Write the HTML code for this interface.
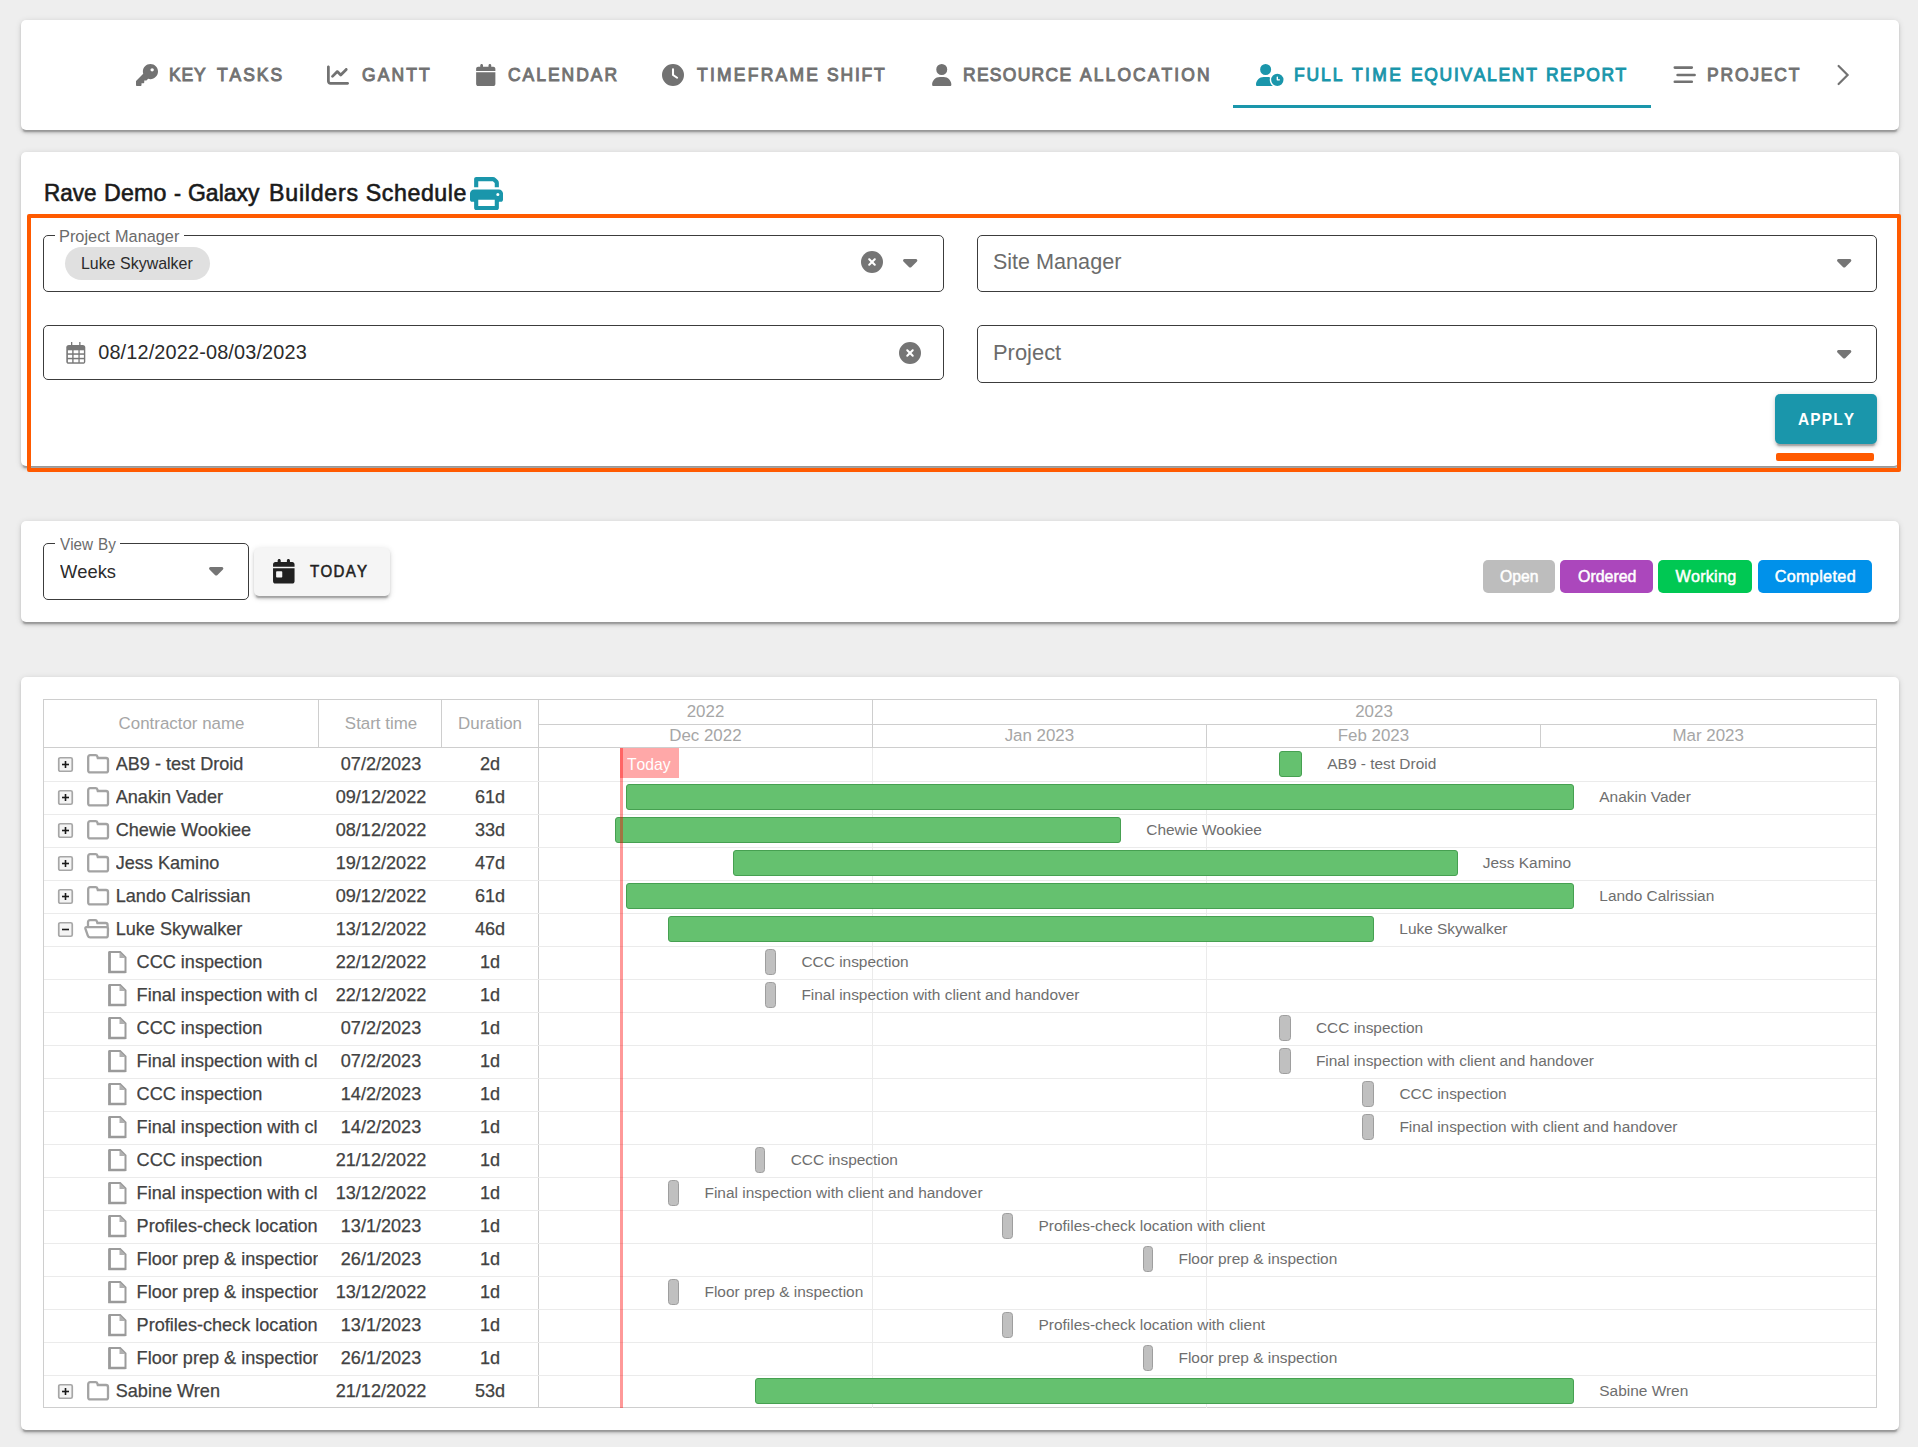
<!DOCTYPE html>
<html lang="en"><head><meta charset="utf-8"><title>Full Time Equivalent Report</title>
<style>
html,body{margin:0;padding:0}
body{width:1918px;height:1447px;background:#eeeeee;position:relative;overflow:hidden;font-family:"Liberation Sans",sans-serif;font-kerning:none}
.g{display:contents;font:inherit;margin:0;padding:0;border:0;background:none}
.g>*{position:absolute}
.card{background:#fff;border-radius:5px;box-shadow:0 4.15px 1.4px -2.8px rgba(0,0,0,.2),0 2.8px 2.8px 0 rgba(0,0,0,.14),0 1.4px 6.9px 0 rgba(0,0,0,.12)}
.t{white-space:nowrap;display:block;transform-origin:0 0}
.c{text-align:center}
.gn,.gc,.gl,.c{font-kerning:normal}
.gn{font-size:18.1px;line-height:20px;color:#424242;-webkit-text-stroke:0.25px #424242;overflow:hidden}
.gc{font-size:18.1px;line-height:20px;color:#424242;-webkit-text-stroke:0.25px #424242;text-align:center}
.gl{font-size:15.45px;line-height:17px;color:#6e6e6e}
svg{display:block;overflow:visible}
</style></head>
<body>
<nav class="g" aria-label="Report views">
<div class="card" style="left:21px;top:20px;width:1878px;height:110px;"></div>
<svg style="left:136px;top:64px;" width="22" height="22" viewBox="0 0 512 512"><path fill="#727272" fill-rule="evenodd" d="M336 352c97.200 0 176-78.800 176-176S433.200 0 336 0S160 78.800 160 176c0 18.700 2.900 36.800 8.300 53.700L7 391c-4.500 4.500-7 10.600-7 17v80c0 13.300 10.700 24 24 24h80c13.300 0 24-10.700 24-24V448h40c13.300 0 24-10.700 24-24V384h40c6.400 0 12.500-2.500 17-7l33.300-33.300c16.900 5.400 35 8.300 53.700 8.300zM376 96a40 40 0 1 1 0 80 40 40 0 1 1 0-80z"/></svg>
<span class="g"><span class="t tab" style="left:169.03px;top:64px;font-size:18.8px;line-height:21px;color:#727272;letter-spacing:0.973px;transform:scaleX(0.9300);-webkit-text-stroke:1.0px #727272;">KEY</span> <span class="t tab" style="left:216.77px;top:64px;font-size:18.8px;line-height:21px;color:#727272;letter-spacing:2.094px;transform:scaleX(0.9300);-webkit-text-stroke:1.0px #727272;">TASKS</span></span>
<svg style="left:326.5px;top:64px;" width="22" height="22" viewBox="0 0 512 512"><path fill="#727272" fill-rule="evenodd" d="M64 64c0-17.700-14.300-32-32-32S0 46.300 0 64V400c0 44.200 35.800 80 80 80H480c17.700 0 32-14.300 32-32s-14.300-32-32-32H80c-8.800 0-16-7.200-16-16V64zm406.600 86.600c12.500-12.500 12.500-32.800 0-45.300s-32.800-12.500-45.300 0L320 210.700l-57.400-57.400c-12.500-12.500-32.800-12.500-45.300 0l-112 112c-12.500 12.500-12.500 32.800 0 45.300s32.800 12.500 45.300 0L240 221.300l57.400 57.400c12.500 12.500 32.800 12.500 45.300 0l128-128z"/></svg>
<span class="t tab" style="left:361.56px;top:64px;font-size:18.8px;line-height:21px;color:#727272;letter-spacing:2.309px;transform:scaleX(0.9300);-webkit-text-stroke:1.0px #727272;">GANTT</span>
<svg style="left:475.5px;top:64px;" width="19.5" height="22" viewBox="0 0 448 512"><path fill="#727272" fill-rule="evenodd" d="M96 32V64H48C21.500 64 0 85.500 0 112v48H448V112c0-26.500-21.500-48-48-48H352V32c0-17.700-14.300-32-32-32s-32 14.300-32 32V64H160V32c0-17.700-14.300-32-32-32S96 14.300 96 32zM448 192H0V464c0 26.500 21.500 48 48 48H400c26.500 0 48-21.500 48-48V192z"/></svg>
<span class="t tab" style="left:507.56px;top:64px;font-size:18.8px;line-height:21px;color:#727272;letter-spacing:2.131px;transform:scaleX(0.9300);-webkit-text-stroke:1.0px #727272;">CALENDAR</span>
<svg style="left:661.5px;top:64px;" width="22" height="22" viewBox="0 0 512 512"><path fill="#727272" fill-rule="evenodd" d="M256 0a256 256 0 1 1 0 512A256 256 0 1 1 256 0zM232 120V256c0 8 4 15.500 10.700 20l96 64c11 7.400 25.900 4.400 33.300-6.700s4.400-25.900-6.700-33.300L280 243.200V120c0-13.300-10.700-24-24-24s-24 10.700-24 24z"/></svg>
<span class="g"><span class="t tab" style="left:696.76px;top:64px;font-size:18.8px;line-height:21px;color:#727272;letter-spacing:2.420px;transform:scaleX(0.9300);-webkit-text-stroke:1.0px #727272;">TIMEFRAME</span> <span class="t tab" style="left:827.26px;top:64px;font-size:18.8px;line-height:21px;color:#727272;letter-spacing:1.969px;transform:scaleX(0.9300);-webkit-text-stroke:1.0px #727272;">SHIFT</span></span>
<svg style="left:932px;top:64px;" width="19.5" height="22" viewBox="0 0 448 512"><path fill="#727272" fill-rule="evenodd" d="M224 256A128 128 0 1 0 224 0a128 128 0 1 0 0 256zm-45.700 48C79.800 304 0 383.800 0 482.300C0 498.700 13.300 512 29.700 512H418.300c16.400 0 29.700-13.300 29.700-29.700C448 383.800 368.200 304 269.700 304H178.300z"/></svg>
<span class="g"><span class="t tab" style="left:962.83px;top:64px;font-size:18.8px;line-height:21px;color:#727272;letter-spacing:1.398px;transform:scaleX(0.9300);-webkit-text-stroke:1.0px #727272;">RESOURCE</span> <span class="t tab" style="left:1080.26px;top:64px;font-size:18.8px;line-height:21px;color:#727272;letter-spacing:2.263px;transform:scaleX(0.9300);-webkit-text-stroke:1.0px #727272;">ALLOCATION</span></span>
<svg style="left:1255.5px;top:64px;" width="27.5" height="22" viewBox="0 0 640 512"><path fill="#1a96ab" fill-rule="evenodd" d="M224 0a128 128 0 1 1 0 256A128 128 0 1 1 224 0zM178.300 304h91.400c20.600 0 40.400 3.500 58.800 9.900C323 331 320 349.100 320 368c0 59.500 29.500 112.100 74.800 144H29.700C13.300 512 0 498.700 0 482.300C0 383.800 79.800 304 178.300 304zM352 368a144 144 0 1 1 288 0 144 144 0 1 1 -288 0zm144-80c-8.800 0-16 7.200-16 16v64c0 8.800 7.200 16 16 16h48c8.800 0 16-7.200 16-16s-7.200-16-16-16H512V304c0-8.800-7.200-16-16-16z"/></svg>
<span class="g"><span class="t tab" style="left:1294.34px;top:64px;font-size:18.8px;line-height:21px;color:#1a96ab;letter-spacing:2.044px;transform:scaleX(0.9300);-webkit-text-stroke:1.0px #1a96ab;">FULL</span> <span class="t tab" style="left:1352.06px;top:64px;font-size:18.8px;line-height:21px;color:#1a96ab;letter-spacing:2.594px;transform:scaleX(0.9300);-webkit-text-stroke:1.0px #1a96ab;">TIME</span> <span class="t tab" style="left:1410.63px;top:64px;font-size:18.8px;line-height:21px;color:#1a96ab;letter-spacing:1.811px;transform:scaleX(0.9300);-webkit-text-stroke:1.0px #1a96ab;">EQUIVALENT</span> <span class="t tab" style="left:1546.34px;top:64px;font-size:18.8px;line-height:21px;color:#1a96ab;letter-spacing:1.597px;transform:scaleX(0.9300);-webkit-text-stroke:1.0px #1a96ab;">REPORT</span></span>
<div style="left:1233px;top:105px;width:418px;height:3px;background:#1a96ab;"></div>
<svg style="left:1672px;top:64px;" width="26" height="22" viewBox="0 0 26 22"><g stroke="#727272" stroke-width="2.6" stroke-linecap="round"><path d="M2.8 3.6H19.8M5.6 11H22.6M2.8 17.8H19.8"/></g></svg>
<span class="t tab" style="left:1706.84px;top:64px;font-size:18.8px;line-height:21px;color:#727272;letter-spacing:1.952px;transform:scaleX(0.9300);-webkit-text-stroke:1.0px #727272;">PROJECT</span>
<svg style="left:1834px;top:62px;" width="18" height="26" viewBox="0 0 18 26"><path d="M4.6 4L13.6 13L4.6 22" fill="none" stroke="#727272" stroke-width="2.2" stroke-linecap="round" stroke-linejoin="miter"/></svg>
</nav>
<section class="g" aria-label="Filters">
<div class="card" style="left:21px;top:152px;width:1878px;height:314px;"></div>
<h1 class="g"><span class="t" style="left:43.72px;top:180px;font-size:23.2px;line-height:26px;color:#1a1a1a;transform:scaleX(0.9691);-webkit-text-stroke:0.6px #1a1a1a;">Rave</span> <span class="t" style="left:104.10px;top:180px;font-size:23.2px;line-height:26px;color:#1a1a1a;letter-spacing:0.181px;-webkit-text-stroke:0.6px #1a1a1a;">Demo</span> <span class="t" style="left:173.56px;top:180px;font-size:23.2px;line-height:26px;color:#1a1a1a;transform:scaleX(0.9091);-webkit-text-stroke:0.6px #1a1a1a;">-</span> <span class="t" style="left:188.41px;top:180px;font-size:23.2px;line-height:26px;color:#1a1a1a;transform:scaleX(0.9907);-webkit-text-stroke:0.6px #1a1a1a;">Galaxy</span> <span class="t" style="left:269.10px;top:180px;font-size:23.2px;line-height:26px;color:#1a1a1a;letter-spacing:0.732px;-webkit-text-stroke:0.6px #1a1a1a;">Builders</span> <span class="t" style="left:365.70px;top:180px;font-size:23.2px;line-height:26px;color:#1a1a1a;letter-spacing:0.587px;-webkit-text-stroke:0.6px #1a1a1a;">Schedule</span></h1>
<svg style="left:470px;top:177px;" width="33" height="33" viewBox="0 0 512 512"><path fill="#1a96ab" fill-rule="evenodd" d="M96 0C78.3 0 64 14.3 64 32V160h64V64H354.7L384 93.3V160h64V93.300c0-17-6.700-33.300-18.700-45.300L400 18.700C388 6.700 371.700 0 354.700 0H96zM384 352v96H128v-96H384zM448 384h32c17.700 0 32-14.300 32-32V256c0-35.300-28.700-64-64-64H64c-35.300 0-64 28.700-64 64v96c0 17.700 14.300 32 32 32H64v96c0 17.700 14.300 32 32 32H416c17.700 0 32-14.300 32-32V384zM432 248a24 24 0 1 1 0 48 24 24 0 1 1 0-48z"/></svg>
<div style="left:43px;top:235px;width:901px;height:57px;border:1px solid #3c3c3c;border-radius:5px;box-sizing:border-box;"></div>
<div style="left:55px;top:233px;width:129px;height:5px;background:#fff;"></div>
<span class="g"><span class="t" style="left:58.78px;top:227px;font-size:16.8px;line-height:19px;color:#6b6b6b;transform:scaleX(0.9745);">Project</span> <span class="t" style="left:114.63px;top:227px;font-size:16.8px;line-height:19px;color:#6b6b6b;transform:scaleX(0.9719);">Manager</span></span>
<div style="left:65px;top:247px;width:145px;height:33px;background:#e0e0e0;border-radius:17px;"></div>
<span class="g"><span class="t" style="left:80.97px;top:254px;font-size:17px;line-height:19px;color:#2b2b2b;transform:scaleX(0.9348);">Luke</span> <span class="t" style="left:120.00px;top:254px;font-size:17px;line-height:19px;color:#2b2b2b;transform:scaleX(0.9396);">Skywalker</span></span>
<svg style="left:861px;top:250.8px;" width="22" height="22" viewBox="0 0 512 512"><path fill="#757575" fill-rule="evenodd" d="M256 512A256 256 0 1 0 256 0a256 256 0 1 0 0 512zM175 175c9.400-9.400 24.600-9.400 33.900 0l47 47 47-47c9.400-9.400 24.600-9.400 33.900 0s9.400 24.600 0 33.900l-47 47 47 47c9.400 9.400 9.400 24.600 0 33.900s-24.600 9.400-33.900 0l-47-47-47 47c-9.400 9.400-24.600 9.400-33.900 0s-9.400-24.600 0-33.900l47-47-47-47c-9.400-9.400-9.400-24.600 0-33.900z"/></svg>
<svg style="left:903.2px;top:259px;" width="14.4" height="8.6" viewBox="0 192 320 192"><path fill="#757575" fill-rule="evenodd" d="M137.400 374.600c12.500 12.500 32.800 12.500 45.300 0l128-128c9.200-9.200 11.900-22.900 6.900-34.900s-16.600-19.800-29.600-19.800L32 192c-12.900 0-24.600 7.800-29.600 19.800s-2.200 25.700 6.900 34.900l128 128z"/></svg>
<div style="left:977px;top:235px;width:900px;height:57px;border:1px solid #3c3c3c;border-radius:5px;box-sizing:border-box;"></div>
<span class="g"><span class="t" style="left:992.54px;top:249px;font-size:22.3px;line-height:25px;color:#6b6b6b;transform:scaleX(0.9616);">Site</span> <span class="t" style="left:1035.93px;top:249px;font-size:22.3px;line-height:25px;color:#6b6b6b;transform:scaleX(0.9706);">Manager</span></span>
<svg style="left:1836.5px;top:259px;" width="14.4" height="8.6" viewBox="0 192 320 192"><path fill="#757575" fill-rule="evenodd" d="M137.400 374.600c12.500 12.500 32.800 12.500 45.300 0l128-128c9.200-9.200 11.900-22.900 6.900-34.900s-16.600-19.800-29.600-19.800L32 192c-12.900 0-24.600 7.800-29.600 19.800s-2.200 25.700 6.900 34.900l128 128z"/></svg>
<div style="left:43px;top:325px;width:901px;height:55px;border:1px solid #3c3c3c;border-radius:5px;box-sizing:border-box;"></div>
<svg style="left:66px;top:342px;" width="20" height="22" viewBox="0 0 20 22"><rect x="0.3" y="3" width="19" height="18.8" rx="2.6" fill="#787878"/><rect x="5" y="0" width="1.3" height="4" fill="#787878"/><rect x="13.2" y="0" width="1.3" height="4" fill="#787878"/><rect x="1.9" y="8.3" width="4.3" height="3" fill="#fff"/><rect x="7.6" y="8.3" width="4.8" height="3" fill="#fff"/><rect x="13.7" y="8.3" width="4.2" height="3" fill="#fff"/><rect x="1.9" y="12.8" width="4.3" height="3" fill="#fff"/><rect x="7.6" y="12.8" width="4.8" height="3" fill="#fff"/><rect x="13.7" y="12.8" width="4.2" height="3" fill="#fff"/><rect x="1.9" y="17.3" width="4.3" height="3" fill="#fff"/><rect x="7.6" y="17.3" width="4.8" height="3" fill="#fff"/><rect x="13.7" y="17.3" width="4.2" height="3" fill="#fff"/></svg>
<span class="t" style="left:98.20px;top:341px;font-size:19.9px;line-height:22px;color:#2b2b2b;letter-spacing:0.142px;">08/12/2022-08/03/2023</span>
<svg style="left:899.2px;top:342px;" width="22" height="22" viewBox="0 0 512 512"><path fill="#757575" fill-rule="evenodd" d="M256 512A256 256 0 1 0 256 0a256 256 0 1 0 0 512zM175 175c9.400-9.400 24.600-9.400 33.900 0l47 47 47-47c9.400-9.400 24.600-9.400 33.900 0s9.400 24.600 0 33.900l-47 47 47 47c9.400 9.400 9.400 24.600 0 33.900s-24.600 9.400-33.900 0l-47-47-47 47c-9.400 9.400-24.600 9.400-33.900 0s-9.400-24.600 0-33.900l47-47-47-47c-9.400-9.400-9.400-24.600 0-33.900z"/></svg>
<div style="left:977px;top:325px;width:900px;height:58px;border:1px solid #3c3c3c;border-radius:5px;box-sizing:border-box;"></div>
<span class="t" style="left:992.52px;top:340px;font-size:22.3px;line-height:25px;color:#6b6b6b;transform:scaleX(0.9827);">Project</span>
<svg style="left:1836.5px;top:349.5px;" width="14.4" height="8.6" viewBox="0 192 320 192"><path fill="#757575" fill-rule="evenodd" d="M137.400 374.600c12.500 12.500 32.800 12.500 45.300 0l128-128c9.200-9.200 11.900-22.900 6.900-34.900s-16.600-19.800-29.600-19.800L32 192c-12.900 0-24.600 7.800-29.600 19.800s-2.200 25.700 6.900 34.900l128 128z"/></svg>
<div style="left:1775px;top:394px;width:102px;height:50px;background:#1a96ab;border-radius:5px;box-shadow:0 4.15px 1.4px -2.8px rgba(0,0,0,.2),0 2.8px 2.8px 0 rgba(0,0,0,.14),0 1.4px 6.9px 0 rgba(0,0,0,.12);"></div>
<span class="t" style="left:1797.80px;top:410px;font-size:16.6px;line-height:19px;font-weight:700;color:#fff;letter-spacing:1.267px;transform:scaleX(0.9300);">APPLY</span>
<div style="left:1776px;top:453px;width:98px;height:8px;background:#ff5a00;border-radius:2px;"></div>
<div style="left:27px;top:214px;width:1874px;height:258px;border:4px solid #ff5a00;border-radius:2px;box-sizing:border-box;"></div>
</section>
<section class="g" aria-label="View controls">
<div class="card" style="left:21px;top:521px;width:1878px;height:101px;"></div>
<div style="left:43px;top:543px;width:206px;height:57px;border:1px solid #3c3c3c;border-radius:5px;box-sizing:border-box;"></div>
<div style="left:55px;top:541px;width:65px;height:5px;background:#fff;"></div>
<span class="g"><span class="t" style="left:59.60px;top:535px;font-size:16.8px;line-height:19px;color:#6b6b6b;transform:scaleX(0.9073);">View</span> <span class="t" style="left:98.39px;top:535px;font-size:16.8px;line-height:19px;color:#6b6b6b;transform:scaleX(0.9118);">By</span></span>
<span class="t" style="left:59.60px;top:561px;font-size:18.6px;line-height:21px;color:#2b2b2b;transform:scaleX(0.9853);">Weeks</span>
<svg style="left:209px;top:567px;" width="14.4" height="8.6" viewBox="0 192 320 192"><path fill="#757575" fill-rule="evenodd" d="M137.400 374.600c12.500 12.500 32.800 12.500 45.300 0l128-128c9.200-9.200 11.900-22.900 6.900-34.900s-16.600-19.800-29.600-19.800L32 192c-12.900 0-24.600 7.800-29.600 19.800s-2.200 25.700 6.900 34.900l128 128z"/></svg>
<div style="left:254px;top:547.5px;width:136px;height:48px;background:#f5f5f5;border-radius:5px;box-shadow:0 4.15px 1.4px -2.8px rgba(0,0,0,.2),0 2.8px 2.8px 0 rgba(0,0,0,.14),0 1.4px 6.9px 0 rgba(0,0,0,.12);"></div>
<svg style="left:272.5px;top:558.5px;" width="21.6" height="24.6" viewBox="0 0 448 512"><path fill="#212121" fill-rule="evenodd" d="M128 0c17.700 0 32 14.300 32 32V64H288V32c0-17.700 14.300-32 32-32s32 14.300 32 32V64h48c26.500 0 48 21.500 48 48v48H0V112C0 85.500 21.500 64 48 64H96V32c0-17.700 14.300-32 32-32zM0 192H448V464c0 26.500-21.500 48-48 48H48c-26.500 0-48-21.500-48-48V192zm80 64c-8.800 0-16 7.200-16 16v96c0 8.800 7.200 16 16 16h96c8.800 0 16-7.200 16-16V272c0-8.800-7.200-16-16-16H80z"/></svg>
<span class="t" style="left:309.55px;top:562px;font-size:16.4px;line-height:18px;color:#212121;letter-spacing:1.409px;transform:scaleX(0.9200);-webkit-text-stroke:0.55px #212121;">TODAY</span>
<div style="left:1483px;top:560px;width:72px;height:33px;background:#bdbdbd;border-radius:5px;"></div>
<span class="t" style="left:1500.24px;top:567px;font-size:16.2px;line-height:18px;color:#fff;transform:scaleX(0.9694);-webkit-text-stroke:0.5px #fff;">Open</span>
<div style="left:1560px;top:560px;width:93px;height:33px;background:#ab47bc;border-radius:5px;"></div>
<span class="t" style="left:1577.55px;top:567px;font-size:16.2px;line-height:18px;color:#fff;transform:scaleX(0.9850);-webkit-text-stroke:0.5px #fff;">Ordered</span>
<div style="left:1658px;top:560px;width:94px;height:33px;background:#00c853;border-radius:5px;"></div>
<span class="t" style="left:1675.45px;top:567px;font-size:16.2px;line-height:18px;color:#fff;letter-spacing:0.223px;-webkit-text-stroke:0.5px #fff;">Working</span>
<div style="left:1758px;top:560px;width:114px;height:33px;background:#0091ea;border-radius:5px;"></div>
<span class="t" style="left:1774.65px;top:567px;font-size:16.2px;line-height:18px;color:#fff;letter-spacing:0.340px;-webkit-text-stroke:0.5px #fff;">Completed</span>
</section>
<main class="g" aria-label="Gantt chart">
<div class="card" style="left:21px;top:677px;width:1878px;height:753px;"></div>
<div style="left:43px;top:699px;width:1834px;height:709px;border:1px solid #cecece;box-sizing:border-box;"></div>
<div style="left:43px;top:747px;width:1834px;height:1px;background:#cecece;"></div>
<div style="left:318px;top:700px;width:1px;height:47px;background:#cecece;"></div>
<div style="left:441px;top:700px;width:1px;height:47px;background:#cecece;"></div>
<div style="left:538px;top:700px;width:1px;height:708px;background:#cecece;"></div>
<span id="h1" class="t c" style="left:31.5px;width:300px;top:714px;font-size:16.9px;line-height:19px;color:#a6a6a6;">Contractor name</span>
<span id="h2" class="t c" style="left:231px;width:300px;top:714px;font-size:16.9px;line-height:19px;color:#a6a6a6;">Start time</span>
<span id="h3" class="t c" style="left:340px;width:300px;top:714px;font-size:16.9px;line-height:19px;color:#a6a6a6;">Duration</span>
<div style="left:539px;top:723.5px;width:1337px;height:1px;background:#cecece;"></div>
<div style="left:872px;top:700px;width:1px;height:47px;background:#cecece;"></div>
<div style="left:1206px;top:724px;width:1px;height:23px;background:#cecece;"></div>
<div style="left:1540px;top:724px;width:1px;height:23px;background:#cecece;"></div>
<span id="y1" class="t c" style="left:555.5px;width:300px;top:702px;font-size:16.9px;line-height:19px;color:#a6a6a6;">2022</span>
<span id="y2" class="t c" style="left:1224px;width:300px;top:702px;font-size:16.9px;line-height:19px;color:#a6a6a6;">2023</span>
<span id="m0" class="t c" style="left:555.4px;width:300px;top:726px;font-size:16.9px;line-height:19px;color:#a6a6a6;">Dec 2022</span>
<span id="m1" class="t c" style="left:889.4000000000001px;width:300px;top:726px;font-size:16.9px;line-height:19px;color:#a6a6a6;">Jan 2023</span>
<span id="m2" class="t c" style="left:1223.4px;width:300px;top:726px;font-size:16.9px;line-height:19px;color:#a6a6a6;">Feb 2023</span>
<span id="m3" class="t c" style="left:1558.2px;width:300px;top:726px;font-size:16.9px;line-height:19px;color:#a6a6a6;">Mar 2023</span>
<div style="left:872px;top:748px;width:1px;height:660px;background:#ebebeb;"></div>
<div style="left:1206px;top:748px;width:1px;height:660px;background:#ebebeb;"></div>
<div class="g">
<div style="left:44px;top:781px;width:1832px;height:1px;background:#ebebeb;"></div>
<svg style="left:58px;top:757px;" width="15" height="15" viewBox="0 0 15 15"><rect x="0.75" y="0.75" width="13.5" height="13.5" rx="1.6" fill="#f4f4f4" stroke="#a6a6a6" stroke-width="1.7"/><path d="M4 7.5H11" stroke="#1a1a1a" stroke-width="1.6"/><path d="M7.5 4V11" stroke="#1a1a1a" stroke-width="1.6"/></svg>
<svg style="left:86.5px;top:754px;" width="23" height="20" viewBox="0 0 23 20"><path d="M1.2 3.2Q1.2 1.2 3.2 1.2H8.6Q10 1.2 10.4 2.6L10.8 4H19Q21 4 21 6V16.4Q21 18.4 19 18.4H3.2Q1.2 18.4 1.2 16.4Z" fill="#fff" stroke="#a3a3a3" stroke-width="2.3"/></svg>
<span class="t gn" style="left:115.7px;top:754px;width:202.3px;">AB9 - test Droid</span>
<span class="t gc" style="left:320px;width:122px;top:754px;">07/2/2023</span>
<span class="t gc" style="left:442px;width:96px;top:754px;">2d</span>
<div style="left:1279px;top:751px;width:23px;height:26px;background:#65c16f;border:1px solid #46a051;border-radius:3px;box-sizing:border-box;"></div>
<span class="t gl" style="left:1327.3px;top:755px;">AB9 - test Droid</span>
</div>
<div class="g">
<div style="left:44px;top:814px;width:1832px;height:1px;background:#ebebeb;"></div>
<svg style="left:58px;top:790px;" width="15" height="15" viewBox="0 0 15 15"><rect x="0.75" y="0.75" width="13.5" height="13.5" rx="1.6" fill="#f4f4f4" stroke="#a6a6a6" stroke-width="1.7"/><path d="M4 7.5H11" stroke="#1a1a1a" stroke-width="1.6"/><path d="M7.5 4V11" stroke="#1a1a1a" stroke-width="1.6"/></svg>
<svg style="left:86.5px;top:787px;" width="23" height="20" viewBox="0 0 23 20"><path d="M1.2 3.2Q1.2 1.2 3.2 1.2H8.6Q10 1.2 10.4 2.6L10.8 4H19Q21 4 21 6V16.4Q21 18.4 19 18.4H3.2Q1.2 18.4 1.2 16.4Z" fill="#fff" stroke="#a3a3a3" stroke-width="2.3"/></svg>
<span class="t gn" style="left:115.7px;top:787px;width:202.3px;">Anakin Vader</span>
<span class="t gc" style="left:320px;width:122px;top:787px;">09/12/2022</span>
<span class="t gc" style="left:442px;width:96px;top:787px;">61d</span>
<div style="left:626px;top:784px;width:948px;height:26px;background:#65c16f;border:1px solid #46a051;border-radius:3px;box-sizing:border-box;"></div>
<span class="t gl" style="left:1599.3px;top:788px;">Anakin Vader</span>
</div>
<div class="g">
<div style="left:44px;top:847px;width:1832px;height:1px;background:#ebebeb;"></div>
<svg style="left:58px;top:823px;" width="15" height="15" viewBox="0 0 15 15"><rect x="0.75" y="0.75" width="13.5" height="13.5" rx="1.6" fill="#f4f4f4" stroke="#a6a6a6" stroke-width="1.7"/><path d="M4 7.5H11" stroke="#1a1a1a" stroke-width="1.6"/><path d="M7.5 4V11" stroke="#1a1a1a" stroke-width="1.6"/></svg>
<svg style="left:86.5px;top:820px;" width="23" height="20" viewBox="0 0 23 20"><path d="M1.2 3.2Q1.2 1.2 3.2 1.2H8.6Q10 1.2 10.4 2.6L10.8 4H19Q21 4 21 6V16.4Q21 18.4 19 18.4H3.2Q1.2 18.4 1.2 16.4Z" fill="#fff" stroke="#a3a3a3" stroke-width="2.3"/></svg>
<span class="t gn" style="left:115.7px;top:820px;width:202.3px;">Chewie Wookiee</span>
<span class="t gc" style="left:320px;width:122px;top:820px;">08/12/2022</span>
<span class="t gc" style="left:442px;width:96px;top:820px;">33d</span>
<div style="left:615px;top:817px;width:506px;height:26px;background:#65c16f;border:1px solid #46a051;border-radius:3px;box-sizing:border-box;"></div>
<span class="t gl" style="left:1146.3px;top:821px;">Chewie Wookiee</span>
</div>
<div class="g">
<div style="left:44px;top:880px;width:1832px;height:1px;background:#ebebeb;"></div>
<svg style="left:58px;top:856px;" width="15" height="15" viewBox="0 0 15 15"><rect x="0.75" y="0.75" width="13.5" height="13.5" rx="1.6" fill="#f4f4f4" stroke="#a6a6a6" stroke-width="1.7"/><path d="M4 7.5H11" stroke="#1a1a1a" stroke-width="1.6"/><path d="M7.5 4V11" stroke="#1a1a1a" stroke-width="1.6"/></svg>
<svg style="left:86.5px;top:853px;" width="23" height="20" viewBox="0 0 23 20"><path d="M1.2 3.2Q1.2 1.2 3.2 1.2H8.6Q10 1.2 10.4 2.6L10.8 4H19Q21 4 21 6V16.4Q21 18.4 19 18.4H3.2Q1.2 18.4 1.2 16.4Z" fill="#fff" stroke="#a3a3a3" stroke-width="2.3"/></svg>
<span class="t gn" style="left:115.7px;top:853px;width:202.3px;">Jess Kamino</span>
<span class="t gc" style="left:320px;width:122px;top:853px;">19/12/2022</span>
<span class="t gc" style="left:442px;width:96px;top:853px;">47d</span>
<div style="left:733px;top:850px;width:725px;height:26px;background:#65c16f;border:1px solid #46a051;border-radius:3px;box-sizing:border-box;"></div>
<span class="t gl" style="left:1482.8px;top:854px;">Jess Kamino</span>
</div>
<div class="g">
<div style="left:44px;top:913px;width:1832px;height:1px;background:#ebebeb;"></div>
<svg style="left:58px;top:889px;" width="15" height="15" viewBox="0 0 15 15"><rect x="0.75" y="0.75" width="13.5" height="13.5" rx="1.6" fill="#f4f4f4" stroke="#a6a6a6" stroke-width="1.7"/><path d="M4 7.5H11" stroke="#1a1a1a" stroke-width="1.6"/><path d="M7.5 4V11" stroke="#1a1a1a" stroke-width="1.6"/></svg>
<svg style="left:86.5px;top:886px;" width="23" height="20" viewBox="0 0 23 20"><path d="M1.2 3.2Q1.2 1.2 3.2 1.2H8.6Q10 1.2 10.4 2.6L10.8 4H19Q21 4 21 6V16.4Q21 18.4 19 18.4H3.2Q1.2 18.4 1.2 16.4Z" fill="#fff" stroke="#a3a3a3" stroke-width="2.3"/></svg>
<span class="t gn" style="left:115.7px;top:886px;width:202.3px;">Lando Calrissian</span>
<span class="t gc" style="left:320px;width:122px;top:886px;">09/12/2022</span>
<span class="t gc" style="left:442px;width:96px;top:886px;">61d</span>
<div style="left:626px;top:883px;width:948px;height:26px;background:#65c16f;border:1px solid #46a051;border-radius:3px;box-sizing:border-box;"></div>
<span class="t gl" style="left:1599.3px;top:887px;">Lando Calrissian</span>
</div>
<div class="g">
<div style="left:44px;top:946px;width:1832px;height:1px;background:#ebebeb;"></div>
<svg style="left:58px;top:922px;" width="15" height="15" viewBox="0 0 15 15"><rect x="0.75" y="0.75" width="13.5" height="13.5" rx="1.6" fill="#f4f4f4" stroke="#a6a6a6" stroke-width="1.7"/><path d="M4 7.5H11" stroke="#1a1a1a" stroke-width="1.6"/></svg>
<svg style="left:83.5px;top:919px;" width="26" height="20" viewBox="0 0 26 20"><path d="M4 8.4V3.2Q4 1.2 6 1.2H11.2Q12.6 1.2 13 2.6L13.4 4H21.6Q23.6 4 23.6 6V8.4" fill="#fff" stroke="#a3a3a3" stroke-width="2.3"/><path d="M1.4 9.6Q1 8.2 2.6 8.2H22.4Q24 8.2 24 9.8L23.8 16.4Q23.8 18.4 21.8 18.4H6.2Q4.4 18.4 3.8 16.6Z" fill="#fff" stroke="#a3a3a3" stroke-width="2.3"/></svg>
<span class="t gn" style="left:115.7px;top:919px;width:202.3px;">Luke Skywalker</span>
<span class="t gc" style="left:320px;width:122px;top:919px;">13/12/2022</span>
<span class="t gc" style="left:442px;width:96px;top:919px;">46d</span>
<div style="left:668px;top:916px;width:706px;height:26px;background:#65c16f;border:1px solid #46a051;border-radius:3px;box-sizing:border-box;"></div>
<span class="t gl" style="left:1399.3px;top:920px;">Luke Skywalker</span>
</div>
<div class="g">
<div style="left:44px;top:979px;width:1832px;height:1px;background:#ebebeb;"></div>
<svg style="left:107.5px;top:951px;" width="19" height="23" viewBox="-0.5 0 19 23"><path d="M1 1H11.6L17 6.4V21H1Z" fill="#fff" stroke="#9c9c9c" stroke-width="2"/><path d="M1 1V21H17" fill="none" stroke="#9a9a9a" stroke-width="2.6"/><path d="M11 1.4V7H16.6Z" fill="#b0b0b0"/></svg>
<span class="t gn" style="left:136.6px;top:952px;width:181.4px;">CCC inspection</span>
<span class="t gc" style="left:320px;width:122px;top:952px;">22/12/2022</span>
<span class="t gc" style="left:442px;width:96px;top:952px;">1d</span>
<div style="left:765px;top:949px;width:11px;height:26px;background:#c0c0c0;border:1px solid #9e9e9e;border-radius:3.5px;box-sizing:border-box;"></div>
<span class="t gl" style="left:801.4px;top:953px;">CCC inspection</span>
</div>
<div class="g">
<div style="left:44px;top:1012px;width:1832px;height:1px;background:#ebebeb;"></div>
<svg style="left:107.5px;top:984px;" width="19" height="23" viewBox="-0.5 0 19 23"><path d="M1 1H11.6L17 6.4V21H1Z" fill="#fff" stroke="#9c9c9c" stroke-width="2"/><path d="M1 1V21H17" fill="none" stroke="#9a9a9a" stroke-width="2.6"/><path d="M11 1.4V7H16.6Z" fill="#b0b0b0"/></svg>
<span class="t gn" style="left:136.6px;top:985px;width:181.4px;">Final inspection with client and handover</span>
<span class="t gc" style="left:320px;width:122px;top:985px;">22/12/2022</span>
<span class="t gc" style="left:442px;width:96px;top:985px;">1d</span>
<div style="left:765px;top:982px;width:11px;height:26px;background:#c0c0c0;border:1px solid #9e9e9e;border-radius:3.5px;box-sizing:border-box;"></div>
<span class="t gl" style="left:801.4px;top:986px;">Final inspection with client and handover</span>
</div>
<div class="g">
<div style="left:44px;top:1045px;width:1832px;height:1px;background:#ebebeb;"></div>
<svg style="left:107.5px;top:1017px;" width="19" height="23" viewBox="-0.5 0 19 23"><path d="M1 1H11.6L17 6.4V21H1Z" fill="#fff" stroke="#9c9c9c" stroke-width="2"/><path d="M1 1V21H17" fill="none" stroke="#9a9a9a" stroke-width="2.6"/><path d="M11 1.4V7H16.6Z" fill="#b0b0b0"/></svg>
<span class="t gn" style="left:136.6px;top:1018px;width:181.4px;">CCC inspection</span>
<span class="t gc" style="left:320px;width:122px;top:1018px;">07/2/2023</span>
<span class="t gc" style="left:442px;width:96px;top:1018px;">1d</span>
<div style="left:1279px;top:1015px;width:12px;height:26px;background:#c0c0c0;border:1px solid #9e9e9e;border-radius:3.5px;box-sizing:border-box;"></div>
<span class="t gl" style="left:1315.9px;top:1019px;">CCC inspection</span>
</div>
<div class="g">
<div style="left:44px;top:1078px;width:1832px;height:1px;background:#ebebeb;"></div>
<svg style="left:107.5px;top:1050px;" width="19" height="23" viewBox="-0.5 0 19 23"><path d="M1 1H11.6L17 6.4V21H1Z" fill="#fff" stroke="#9c9c9c" stroke-width="2"/><path d="M1 1V21H17" fill="none" stroke="#9a9a9a" stroke-width="2.6"/><path d="M11 1.4V7H16.6Z" fill="#b0b0b0"/></svg>
<span class="t gn" style="left:136.6px;top:1051px;width:181.4px;">Final inspection with client and handover</span>
<span class="t gc" style="left:320px;width:122px;top:1051px;">07/2/2023</span>
<span class="t gc" style="left:442px;width:96px;top:1051px;">1d</span>
<div style="left:1279px;top:1048px;width:12px;height:26px;background:#c0c0c0;border:1px solid #9e9e9e;border-radius:3.5px;box-sizing:border-box;"></div>
<span class="t gl" style="left:1315.9px;top:1052px;">Final inspection with client and handover</span>
</div>
<div class="g">
<div style="left:44px;top:1111px;width:1832px;height:1px;background:#ebebeb;"></div>
<svg style="left:107.5px;top:1083px;" width="19" height="23" viewBox="-0.5 0 19 23"><path d="M1 1H11.6L17 6.4V21H1Z" fill="#fff" stroke="#9c9c9c" stroke-width="2"/><path d="M1 1V21H17" fill="none" stroke="#9a9a9a" stroke-width="2.6"/><path d="M11 1.4V7H16.6Z" fill="#b0b0b0"/></svg>
<span class="t gn" style="left:136.6px;top:1084px;width:181.4px;">CCC inspection</span>
<span class="t gc" style="left:320px;width:122px;top:1084px;">14/2/2023</span>
<span class="t gc" style="left:442px;width:96px;top:1084px;">1d</span>
<div style="left:1362px;top:1081px;width:12px;height:26px;background:#c0c0c0;border:1px solid #9e9e9e;border-radius:3.5px;box-sizing:border-box;"></div>
<span class="t gl" style="left:1399.4px;top:1085px;">CCC inspection</span>
</div>
<div class="g">
<div style="left:44px;top:1144px;width:1832px;height:1px;background:#ebebeb;"></div>
<svg style="left:107.5px;top:1116px;" width="19" height="23" viewBox="-0.5 0 19 23"><path d="M1 1H11.6L17 6.4V21H1Z" fill="#fff" stroke="#9c9c9c" stroke-width="2"/><path d="M1 1V21H17" fill="none" stroke="#9a9a9a" stroke-width="2.6"/><path d="M11 1.4V7H16.6Z" fill="#b0b0b0"/></svg>
<span class="t gn" style="left:136.6px;top:1117px;width:181.4px;">Final inspection with client and handover</span>
<span class="t gc" style="left:320px;width:122px;top:1117px;">14/2/2023</span>
<span class="t gc" style="left:442px;width:96px;top:1117px;">1d</span>
<div style="left:1362px;top:1114px;width:12px;height:26px;background:#c0c0c0;border:1px solid #9e9e9e;border-radius:3.5px;box-sizing:border-box;"></div>
<span class="t gl" style="left:1399.4px;top:1118px;">Final inspection with client and handover</span>
</div>
<div class="g">
<div style="left:44px;top:1177px;width:1832px;height:1px;background:#ebebeb;"></div>
<svg style="left:107.5px;top:1149px;" width="19" height="23" viewBox="-0.5 0 19 23"><path d="M1 1H11.6L17 6.4V21H1Z" fill="#fff" stroke="#9c9c9c" stroke-width="2"/><path d="M1 1V21H17" fill="none" stroke="#9a9a9a" stroke-width="2.6"/><path d="M11 1.4V7H16.6Z" fill="#b0b0b0"/></svg>
<span class="t gn" style="left:136.6px;top:1150px;width:181.4px;">CCC inspection</span>
<span class="t gc" style="left:320px;width:122px;top:1150px;">21/12/2022</span>
<span class="t gc" style="left:442px;width:96px;top:1150px;">1d</span>
<div style="left:755px;top:1147px;width:10px;height:26px;background:#c0c0c0;border:1px solid #9e9e9e;border-radius:3.5px;box-sizing:border-box;"></div>
<span class="t gl" style="left:790.7px;top:1151px;">CCC inspection</span>
</div>
<div class="g">
<div style="left:44px;top:1210px;width:1832px;height:1px;background:#ebebeb;"></div>
<svg style="left:107.5px;top:1182px;" width="19" height="23" viewBox="-0.5 0 19 23"><path d="M1 1H11.6L17 6.4V21H1Z" fill="#fff" stroke="#9c9c9c" stroke-width="2"/><path d="M1 1V21H17" fill="none" stroke="#9a9a9a" stroke-width="2.6"/><path d="M11 1.4V7H16.6Z" fill="#b0b0b0"/></svg>
<span class="t gn" style="left:136.6px;top:1183px;width:181.4px;">Final inspection with client and handover</span>
<span class="t gc" style="left:320px;width:122px;top:1183px;">13/12/2022</span>
<span class="t gc" style="left:442px;width:96px;top:1183px;">1d</span>
<div style="left:668px;top:1180px;width:11px;height:26px;background:#c0c0c0;border:1px solid #9e9e9e;border-radius:3.5px;box-sizing:border-box;"></div>
<span class="t gl" style="left:704.5px;top:1184px;">Final inspection with client and handover</span>
</div>
<div class="g">
<div style="left:44px;top:1243px;width:1832px;height:1px;background:#ebebeb;"></div>
<svg style="left:107.5px;top:1215px;" width="19" height="23" viewBox="-0.5 0 19 23"><path d="M1 1H11.6L17 6.4V21H1Z" fill="#fff" stroke="#9c9c9c" stroke-width="2"/><path d="M1 1V21H17" fill="none" stroke="#9a9a9a" stroke-width="2.6"/><path d="M11 1.4V7H16.6Z" fill="#b0b0b0"/></svg>
<span class="t gn" style="left:136.6px;top:1216px;width:181.4px;">Profiles-check location with client</span>
<span class="t gc" style="left:320px;width:122px;top:1216px;">13/1/2023</span>
<span class="t gc" style="left:442px;width:96px;top:1216px;">1d</span>
<div style="left:1002px;top:1213px;width:11px;height:26px;background:#c0c0c0;border:1px solid #9e9e9e;border-radius:3.5px;box-sizing:border-box;"></div>
<span class="t gl" style="left:1038.5px;top:1217px;">Profiles-check location with client</span>
</div>
<div class="g">
<div style="left:44px;top:1276px;width:1832px;height:1px;background:#ebebeb;"></div>
<svg style="left:107.5px;top:1248px;" width="19" height="23" viewBox="-0.5 0 19 23"><path d="M1 1H11.6L17 6.4V21H1Z" fill="#fff" stroke="#9c9c9c" stroke-width="2"/><path d="M1 1V21H17" fill="none" stroke="#9a9a9a" stroke-width="2.6"/><path d="M11 1.4V7H16.6Z" fill="#b0b0b0"/></svg>
<span class="t gn" style="left:136.6px;top:1249px;width:181.4px;">Floor prep &amp; inspection</span>
<span class="t gc" style="left:320px;width:122px;top:1249px;">26/1/2023</span>
<span class="t gc" style="left:442px;width:96px;top:1249px;">1d</span>
<div style="left:1143px;top:1246px;width:10px;height:26px;background:#c0c0c0;border:1px solid #9e9e9e;border-radius:3.5px;box-sizing:border-box;"></div>
<span class="t gl" style="left:1178.5px;top:1250px;">Floor prep &amp; inspection</span>
</div>
<div class="g">
<div style="left:44px;top:1309px;width:1832px;height:1px;background:#ebebeb;"></div>
<svg style="left:107.5px;top:1281px;" width="19" height="23" viewBox="-0.5 0 19 23"><path d="M1 1H11.6L17 6.4V21H1Z" fill="#fff" stroke="#9c9c9c" stroke-width="2"/><path d="M1 1V21H17" fill="none" stroke="#9a9a9a" stroke-width="2.6"/><path d="M11 1.4V7H16.6Z" fill="#b0b0b0"/></svg>
<span class="t gn" style="left:136.6px;top:1282px;width:181.4px;">Floor prep &amp; inspection</span>
<span class="t gc" style="left:320px;width:122px;top:1282px;">13/12/2022</span>
<span class="t gc" style="left:442px;width:96px;top:1282px;">1d</span>
<div style="left:668px;top:1279px;width:11px;height:26px;background:#c0c0c0;border:1px solid #9e9e9e;border-radius:3.5px;box-sizing:border-box;"></div>
<span class="t gl" style="left:704.5px;top:1283px;">Floor prep &amp; inspection</span>
</div>
<div class="g">
<div style="left:44px;top:1342px;width:1832px;height:1px;background:#ebebeb;"></div>
<svg style="left:107.5px;top:1314px;" width="19" height="23" viewBox="-0.5 0 19 23"><path d="M1 1H11.6L17 6.4V21H1Z" fill="#fff" stroke="#9c9c9c" stroke-width="2"/><path d="M1 1V21H17" fill="none" stroke="#9a9a9a" stroke-width="2.6"/><path d="M11 1.4V7H16.6Z" fill="#b0b0b0"/></svg>
<span class="t gn" style="left:136.6px;top:1315px;width:181.4px;">Profiles-check location with client</span>
<span class="t gc" style="left:320px;width:122px;top:1315px;">13/1/2023</span>
<span class="t gc" style="left:442px;width:96px;top:1315px;">1d</span>
<div style="left:1002px;top:1312px;width:11px;height:26px;background:#c0c0c0;border:1px solid #9e9e9e;border-radius:3.5px;box-sizing:border-box;"></div>
<span class="t gl" style="left:1038.5px;top:1316px;">Profiles-check location with client</span>
</div>
<div class="g">
<div style="left:44px;top:1375px;width:1832px;height:1px;background:#ebebeb;"></div>
<svg style="left:107.5px;top:1347px;" width="19" height="23" viewBox="-0.5 0 19 23"><path d="M1 1H11.6L17 6.4V21H1Z" fill="#fff" stroke="#9c9c9c" stroke-width="2"/><path d="M1 1V21H17" fill="none" stroke="#9a9a9a" stroke-width="2.6"/><path d="M11 1.4V7H16.6Z" fill="#b0b0b0"/></svg>
<span class="t gn" style="left:136.6px;top:1348px;width:181.4px;">Floor prep &amp; inspection</span>
<span class="t gc" style="left:320px;width:122px;top:1348px;">26/1/2023</span>
<span class="t gc" style="left:442px;width:96px;top:1348px;">1d</span>
<div style="left:1143px;top:1345px;width:10px;height:26px;background:#c0c0c0;border:1px solid #9e9e9e;border-radius:3.5px;box-sizing:border-box;"></div>
<span class="t gl" style="left:1178.5px;top:1349px;">Floor prep &amp; inspection</span>
</div>
<div class="g">
<svg style="left:58px;top:1384px;" width="15" height="15" viewBox="0 0 15 15"><rect x="0.75" y="0.75" width="13.5" height="13.5" rx="1.6" fill="#f4f4f4" stroke="#a6a6a6" stroke-width="1.7"/><path d="M4 7.5H11" stroke="#1a1a1a" stroke-width="1.6"/><path d="M7.5 4V11" stroke="#1a1a1a" stroke-width="1.6"/></svg>
<svg style="left:86.5px;top:1381px;" width="23" height="20" viewBox="0 0 23 20"><path d="M1.2 3.2Q1.2 1.2 3.2 1.2H8.6Q10 1.2 10.4 2.6L10.8 4H19Q21 4 21 6V16.4Q21 18.4 19 18.4H3.2Q1.2 18.4 1.2 16.4Z" fill="#fff" stroke="#a3a3a3" stroke-width="2.3"/></svg>
<span class="t gn" style="left:115.7px;top:1381px;width:202.3px;">Sabine Wren</span>
<span class="t gc" style="left:320px;width:122px;top:1381px;">21/12/2022</span>
<span class="t gc" style="left:442px;width:96px;top:1381px;">53d</span>
<div style="left:755px;top:1378px;width:819px;height:26px;background:#65c16f;border:1px solid #46a051;border-radius:3px;box-sizing:border-box;"></div>
<span class="t gl" style="left:1599.3px;top:1382px;">Sabine Wren</span>
</div>
<div style="left:620px;top:748px;width:3px;height:660px;background:rgba(255,0,0,.4);"></div>
<div style="left:620px;top:748px;width:59px;height:30px;background:rgba(255,0,0,.34);"></div>
<span class="t" style="left:627.00px;top:755px;font-size:16.6px;line-height:19px;color:#fff;transform:scaleX(0.9440);">Today</span>
</main>
</body></html>
